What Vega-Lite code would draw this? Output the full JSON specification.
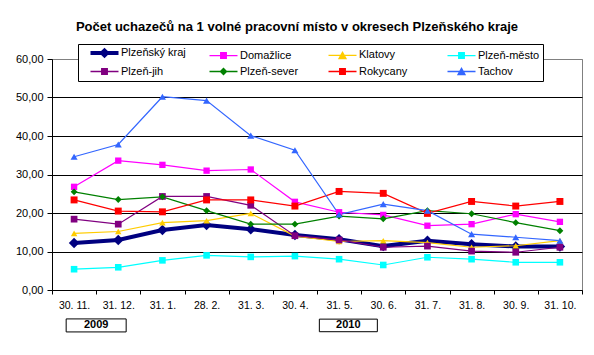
{
  "$schema": "https://vega.github.io/schema/vega-lite/v6.json",
  "width": 530,
  "height": 231,
  "autosize": "none",
  "padding": {"left": 52, "top": 59, "right": 12, "bottom": 65},
  "background": "white",
  "title": {
    "text": "Počet uchazečů na 1 volné pracovní místo v okresech Plzeňského kraje",
    "font": "Liberation Sans",
    "fontSize": 13,
    "fontWeight": "bold",
    "color": "black",
    "anchor": "middle",
    "dx": -20,
    "offset": 10
  },
  "config": {
    "view": {"stroke": "#808080", "strokeWidth": 1},
    "font": "Liberation Sans"
  },
  "datasets": {
    "main": [
      {"m": "30. 11.", "Plzeňský kraj": 12.2, "Domažlice": 26.8, "Klatovy": 14.7, "Plzeň-město": 5.4, "Plzeň-jih": 18.4, "Plzeň-sever": 25.5, "Rokycany": 23.4, "Tachov": 34.6},
      {"m": "31. 12.", "Plzeňský kraj": 13.0, "Domažlice": 33.6, "Klatovy": 15.2, "Plzeň-město": 5.9, "Plzeň-jih": 17.1, "Plzeň-sever": 23.5, "Rokycany": 20.5, "Tachov": 37.8},
      {"m": "31. 1.", "Plzeňský kraj": 15.6, "Domažlice": 32.5, "Klatovy": 17.5, "Plzeň-město": 7.7, "Plzeň-jih": 24.3, "Plzeň-sever": 24.2, "Rokycany": 20.3, "Tachov": 50.2},
      {"m": "28. 2.", "Plzeňský kraj": 16.9, "Domažlice": 31.0, "Klatovy": 18.0, "Plzeň-město": 9.0, "Plzeň-jih": 24.3, "Plzeň-sever": 20.6, "Rokycany": 23.4, "Tachov": 49.2},
      {"m": "31. 3.", "Plzeňský kraj": 15.8, "Domažlice": 31.3, "Klatovy": 19.9, "Plzeň-město": 8.6, "Plzeň-jih": 22.0, "Plzeň-sever": 17.1, "Rokycany": 23.4, "Tachov": 40.1},
      {"m": "30. 4.", "Plzeňský kraj": 14.3, "Domažlice": 22.9, "Klatovy": 14.0, "Plzeň-město": 8.8, "Plzeň-jih": 14.1, "Plzeň-sever": 17.1, "Rokycany": 21.8, "Tachov": 36.3},
      {"m": "31. 5.", "Plzeňský kraj": 13.2, "Domažlice": 20.2, "Klatovy": 12.6, "Plzeň-město": 8.0, "Plzeň-jih": 13.0, "Plzeň-sever": 19.2, "Rokycany": 25.6, "Tachov": 19.6},
      {"m": "30. 6.", "Plzeňský kraj": 11.4, "Domažlice": 19.5, "Klatovy": 12.8, "Plzeň-město": 6.5, "Plzeň-jih": 11.1, "Plzeň-sever": 18.5, "Rokycany": 25.1, "Tachov": 22.3},
      {"m": "31. 7.", "Plzeňský kraj": 12.8, "Domažlice": 16.7, "Klatovy": 12.3, "Plzeň-město": 8.5, "Plzeň-jih": 11.4, "Plzeň-sever": 20.6, "Rokycany": 19.9, "Tachov": 20.6},
      {"m": "31. 8.", "Plzeňský kraj": 11.9, "Domažlice": 17.1, "Klatovy": 11.1, "Plzeň-město": 8.0, "Plzeň-jih": 10.1, "Plzeň-sever": 19.8, "Rokycany": 23.0, "Tachov": 14.5},
      {"m": "30. 9.", "Plzeňský kraj": 11.3, "Domažlice": 19.7, "Klatovy": 11.5, "Plzeň-město": 7.2, "Plzeň-jih": 9.8, "Plzeň-sever": 17.5, "Rokycany": 21.8, "Tachov": 13.7},
      {"m": "31. 10.", "Plzeňský kraj": 11.3, "Domažlice": 17.7, "Klatovy": 12.8, "Plzeň-město": 7.2, "Plzeň-jih": 11.1, "Plzeň-sever": 15.4, "Rokycany": 23.0, "Tachov": 12.8}
    ],
    "years": [
      {"m": "30. 11.", "year": "2009"},
      {"m": "31. 5.", "year": "2010"}
    ]
  },
  "layer": [
    {
      "data": {"name": "main"},
      "transform": [
        {"fold": ["Plzeňský kraj", "Domažlice", "Klatovy", "Plzeň-město", "Plzeň-jih", "Plzeň-sever", "Rokycany", "Tachov"], "as": ["series", "value"]}
      ],
      "encoding": {
        "x": {
          "field": "m",
          "type": "nominal",
          "sort": null,
          "scale": {"domain": ["30. 11.", "31. 12.", "31. 1.", "28. 2.", "31. 3.", "30. 4.", "31. 5.", "30. 6.", "31. 7.", "31. 8.", "30. 9.", "31. 10."], "paddingInner": 0, "paddingOuter": 0},
          "axis": {
            "title": null,
            "labelAngle": 0,
            "tickBand": "extent",
            "tickSize": 4,
            "labelPadding": 6,
            "labelFont": "Liberation Sans",
            "labelFontSize": 10.5,
            "labelColor": "black",
            "domainColor": "black",
            "tickColor": "black",
            "grid": false
          }
        },
        "y": {
          "field": "value",
          "type": "quantitative",
          "scale": {"domain": [0, 60], "nice": false, "zero": true},
          "axis": {
            "title": null,
            "values": [0, 10, 20, 30, 40, 50, 60],
            "labelOverlap": false,
            "labelExpr": "replace(format(datum.value, '.2f'), '.', ',')",
            "grid": true,
            "gridColor": {"condition": {"test": "datum.value === 60", "value": "#808080"}, "value": "black"},
            "gridOpacity": 1,
            "domainColor": "black",
            "tickColor": "black",
            "tickSize": 5,
            "labelPadding": 4,
            "labelFont": "Liberation Sans",
            "labelFontSize": 11,
            "labelColor": "black"
          }
        },
        "color": {
          "field": "series",
          "type": "nominal",
          "scale": {
            "domain": ["Plzeňský kraj", "Domažlice", "Klatovy", "Plzeň-město", "Plzeň-jih", "Plzeň-sever", "Rokycany", "Tachov"],
            "range": ["#000080", "#FF00FF", "#FFCC00", "#00FFFF", "#800080", "#008000", "#FF0000", "#3366FF"]
          },
          "legend": {
            "title": null,
            "orient": "none",
            "legendX": 26,
            "legendY": -15,
            "direction": "horizontal",
            "columns": 4,
            "gridAlign": "all",
            "padding": 3,
            "strokeColor": "black",
            "fillColor": "white",
            "symbolSize": 100,
            "symbolOffset": 18,
            "labelOffset": 11,
            "columnPadding": 14,
            "rowPadding": 1,
            "labelFont": "Liberation Sans",
            "labelFontSize": 11,
            "labelColor": "black",
            "labelLimit": 200,
            "encode": {
              "symbols": {
                "update": {
                  "shape": {"signal": "datum.value === 'Plzeňský kraj' ? 'M-1,0H1M-0.18,0L0,-0.18L0.18,0L0,0.18Z' : (datum.value === 'Klatovy' || datum.value === 'Tachov') ? 'M-1,0H1M-0.25,0.22L0,-0.22L0.25,0.22Z' : datum.value === 'Plzeň-sever' ? 'M-1,0H1M-0.22,0L0,-0.22L0.22,0L0,0.22Z' : 'M-1,0H1M-0.2,-0.2H0.2V0.2H-0.2Z'"},
                  "size": {"value": 784},
                  "strokeWidth": {"signal": "datum.value === 'Plzeňský kraj' ? 4 : 1.3"},
                  "fill": {"scale": "color", "field": "value"},
                  "stroke": {"scale": "color", "field": "value"},
                  "opacity": {"value": 1},
                  "fillOpacity": {"value": 1},
                  "strokeOpacity": {"value": 1}
                }
              }
            }
          }
        }
      },
      "layer": [
        {
          "transform": [{"filter": "datum.series === 'Plzeňský kraj'"}],
          "mark": {"type": "line", "strokeWidth": 4},
          "encoding": {}
        },
        {
          "transform": [{"filter": "datum.series === 'Plzeňský kraj'"}],
          "mark": {"type": "point", "shape": "diamond", "size": 110, "filled": true, "opacity": 1},
          "encoding": {}
        },
        {
          "transform": [{"filter": "datum.series !== 'Plzeňský kraj'"}],
          "mark": {"type": "line", "strokeWidth": 1.2},
          "encoding": {"detail": {"field": "series", "type": "nominal"}}
        },
        {
          "transform": [{"filter": "datum.series !== 'Plzeňský kraj'"}],
          "mark": {"type": "point", "filled": true, "opacity": 1},
          "encoding": {
            "shape": {
              "field": "series",
              "type": "nominal",
              "scale": {
                "domain": ["Domažlice", "Klatovy", "Plzeň-město", "Plzeň-jih", "Plzeň-sever", "Rokycany", "Tachov"],
                "range": ["square", "triangle-up", "square", "square", "diamond", "square", "triangle-up"]
              },
              "legend": null
            },
            "size": {
              "field": "series",
              "type": "ordinal",
              "scale": {
                "domain": ["Domažlice", "Klatovy", "Plzeň-město", "Plzeň-jih", "Plzeň-sever", "Rokycany", "Tachov"],
                "range": [40, 50, 36, 36, 36, 36, 50]
              },
              "legend": null
            }
          }
        }
      ]
    },
    {
      "data": {"name": "years"},
      "encoding": {
        "y": {
          "datum": -9.2,
          "type": "quantitative",
          "axis": {
            "title": null,
            "values": [0, 10, 20, 30, 40, 50, 60],
            "labelOverlap": false,
            "labelExpr": "replace(format(datum.value, '.2f'), '.', ',')",
            "grid": true,
            "gridColor": {"condition": {"test": "datum.value === 60", "value": "#808080"}, "value": "black"},
            "gridOpacity": 1,
            "domainColor": "black",
            "tickColor": "black",
            "tickSize": 5,
            "labelPadding": 4,
            "labelFont": "Liberation Sans",
            "labelFontSize": 11,
            "labelColor": "black"
          }
        }
      },
      "layer": [
        {
          "transform": [{"filter": "datum.year === '2009'"}],
          "mark": {"type": "point", "shape": "M-1,-0.217H1V0.217H-1Z", "size": 3600, "filled": false, "fill": "white", "fillOpacity": 1, "stroke": "black", "strokeWidth": 1, "opacity": 1},
          "encoding": {
            "x": {"field": "m", "type": "nominal", "bandPosition": 1}
          }
        },
        {
          "transform": [{"filter": "datum.year === '2009'"}],
          "mark": {"type": "text", "fontWeight": "bold", "fontSize": 11, "font": "Liberation Sans", "color": "black", "baseline": "middle", "align": "center"},
          "encoding": {
            "x": {"field": "m", "type": "nominal", "bandPosition": 1},
            "text": {"field": "year"}
          }
        },
        {
          "transform": [{"filter": "datum.year === '2010'"}],
          "mark": {"type": "point", "shape": "M-1,-0.217H1V0.217H-1Z", "size": 3364, "filled": false, "fill": "white", "fillOpacity": 1, "stroke": "black", "strokeWidth": 1, "opacity": 1},
          "encoding": {
            "x": {"field": "m", "type": "nominal", "bandPosition": 0.71}
          }
        },
        {
          "transform": [{"filter": "datum.year === '2010'"}],
          "mark": {"type": "text", "fontWeight": "bold", "fontSize": 11, "font": "Liberation Sans", "color": "black", "baseline": "middle", "align": "center"},
          "encoding": {
            "x": {"field": "m", "type": "nominal", "bandPosition": 0.71},
            "text": {"field": "year"}
          }
        }
      ]
    }
  ]
}
